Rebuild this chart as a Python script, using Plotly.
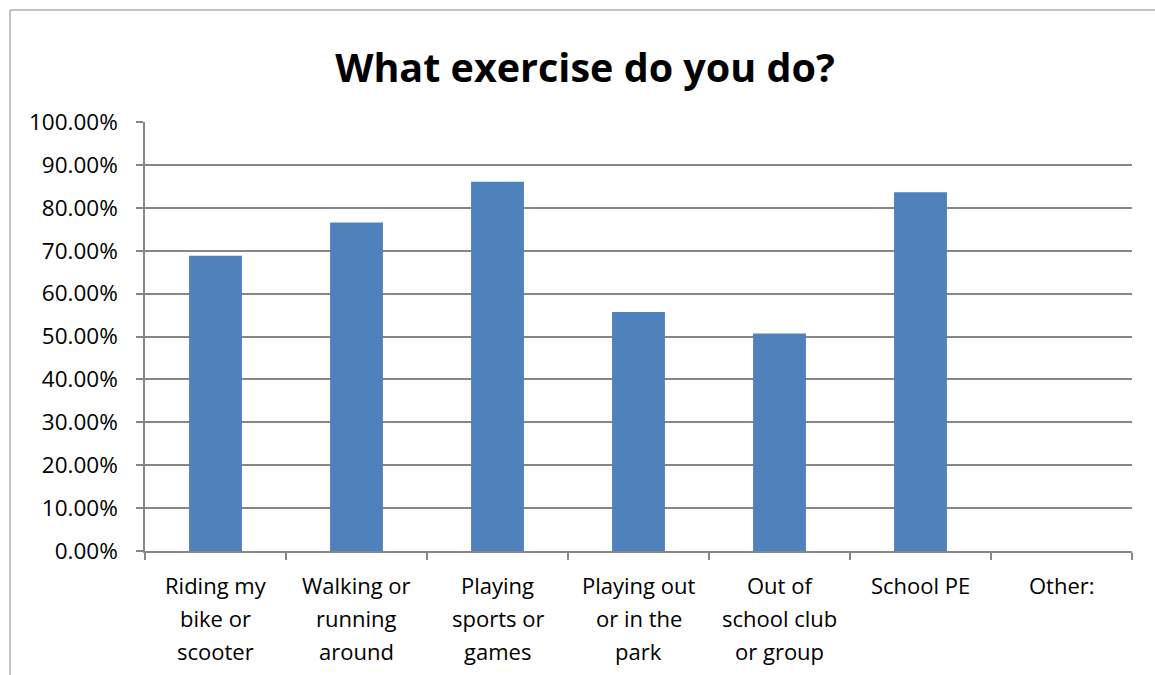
import plotly.graph_objects as go

# Survey results: share of pupils doing each kind of exercise
categories = [
    "Riding my bike or scooter",
    "Walking or running around",
    "Playing sports or games",
    "Playing out or in the park",
    "Out of school club or group",
    "School PE",
    "Other:",
]
label_lines = [
    ["Riding my", "bike or", "scooter"],
    ["Walking or", "running", "around"],
    ["Playing", "sports or", "games"],
    ["Playing out", "or in the", "park"],
    ["Out of", "school club", "or group"],
    ["School PE"],
    ["Other:"],
]
shares = [0.688, 0.766, 0.861, 0.557, 0.507, 0.836, 0.0]
y_ticks = [i / 10 for i in range(11)]

W, H = 1155, 675
L, R, T, B = 145, 23, 122, 124
plot_w = W - L - R
plot_h = H - T - B

FONT = "Open Sans"
GRID = "#868686"

fig = go.Figure(
    go.Bar(
        x=categories,
        y=shares,
        marker=dict(color="#4F81BD", line=dict(width=0)),
        hoverinfo="x+y",
    )
)

# Multi-line category labels with generous line spacing
annotations = []
for cat, lines in zip(categories, label_lines):
    for i, line in enumerate(lines):
        annotations.append(
            dict(
                x=cat, y=0, xref="x", yref="y",
                text=line, showarrow=False,
                xanchor="center", yanchor="middle",
                yshift=-(34 + 33 * i),
                font=dict(family=FONT, size=22, color="#000000"),
            )
        )

# Chart frame (left and top edges)
x_edge = (10 - L) / plot_w
y_edge = (H - B - 10) / plot_h
shapes = [
    dict(type="line", xref="paper", yref="paper",
         x0=x_edge, x1=x_edge, y0=y_edge, y1=-1,
         line=dict(color=GRID, width=1)),
    dict(type="line", xref="paper", yref="paper",
         x0=x_edge, x1=2, y0=y_edge, y1=y_edge,
         line=dict(color=GRID, width=1)),
]

fig.update_layout(
    width=W, height=H,
    margin=dict(l=L, r=R, t=T, b=B, pad=0),
    paper_bgcolor="white", plot_bgcolor="white",
    showlegend=False,
    bargap=0.625,
    font=dict(family=FONT, color="#000000"),
    title=dict(
        text="<b>What exercise do you do?</b>",
        x=585 / W, xanchor="center", xref="container",
        y=1 - 68 / H, yanchor="middle", yref="container",
        font=dict(family=FONT, size=39.5, color="#000000"),
    ),
    annotations=annotations,
    shapes=shapes,
)

fig.update_xaxes(
    type="category",
    showticklabels=False,
    showgrid=False,
    showline=True, linecolor=GRID, linewidth=1.5,
    ticks="outside", tickson="boundaries", ticklen=7,
    tickcolor=GRID, tickwidth=1.5,
    range=[-0.5, len(categories) - 0.5],
)
fig.update_yaxes(
    range=[0, 1],
    tickvals=y_ticks,
    tickformat=".2%",
    showgrid=True, gridcolor=GRID, gridwidth=1.5,
    showline=True, linecolor=GRID, linewidth=1.5,
    ticks="outside", ticklen=7, tickcolor=GRID, tickwidth=1.5,
    ticklabelstandoff=14,
    tickfont=dict(family=FONT, size=22.5, color="#000000"),
    zeroline=False,
)

fig.write_html("out.html")
